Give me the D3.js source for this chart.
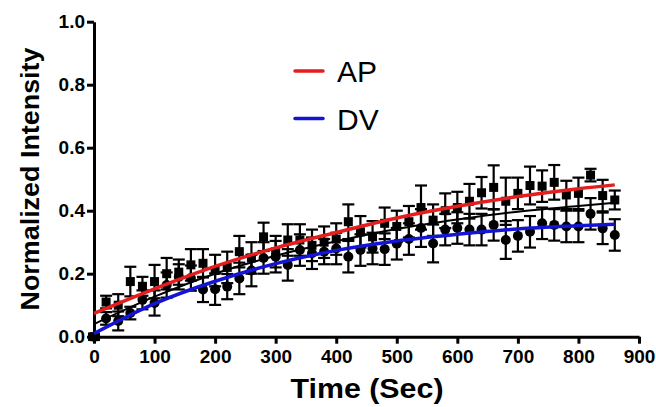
<!DOCTYPE html>
<html>
<head>
<meta charset="utf-8">
<script src="https://cdn.jsdelivr.net/npm/d3@7"></script>
<style>
  body { margin: 0; background: #fff; }
  svg { display: block; }
</style>
</head>
<body>
<div id="chart"></div>
<script>
'use strict';

// sampling times (sec)
var timeSec = [
  0, 20, 40, 60, 80, 100, 120, 140, 160, 180,
  200, 220, 240, 260, 280, 300, 320, 340, 360, 380,
  400, 420, 440, 460, 480, 500, 520, 540, 560, 580,
  600, 620, 640, 660, 680, 700, 720, 740, 760, 780,
  800, 820, 840, 860
];

// AP (squares)
var apMean = [
  0.0, 0.11, 0.10, 0.175, 0.16, 0.175, 0.20, 0.205, 0.228, 0.233,
  0.21, 0.22, 0.27, 0.25, 0.317, 0.27, 0.307, 0.307, 0.29, 0.30,
  0.31, 0.365, 0.333, 0.317, 0.36, 0.35, 0.365, 0.41, 0.37, 0.40,
  0.41, 0.43, 0.457, 0.474, 0.43, 0.455, 0.48, 0.478, 0.49, 0.45,
  0.455, 0.513, 0.448, 0.434
];
var apErr = [
  0.01, 0.02, 0.035, 0.047, 0.03, 0.053, 0.05, 0.04, 0.05, 0.045,
  0.05, 0.05, 0.05, 0.05, 0.045, 0.05, 0.05, 0.05, 0.05, 0.05,
  0.05, 0.055, 0.05, 0.05, 0.05, 0.05, 0.05, 0.07, 0.05, 0.055,
  0.05, 0.055, 0.05, 0.07, 0.075, 0.05, 0.06, 0.05, 0.055, 0.045,
  0.05, 0.02, 0.05, 0.03
];

// DV (circles)
var dvMean = [
  0.0, 0.058, 0.05, 0.075, 0.117, 0.107, 0.164, 0.19, 0.186, 0.15,
  0.151, 0.159, 0.185, 0.21, 0.25, 0.254, 0.228, 0.275, 0.265, 0.27,
  0.28, 0.254, 0.275, 0.28, 0.278, 0.295, 0.31, 0.345, 0.296, 0.34,
  0.345, 0.34, 0.34, 0.355, 0.307, 0.32, 0.333, 0.36, 0.355, 0.35,
  0.35, 0.39, 0.344, 0.323
];
var dvErr = [
  0.005, 0.02, 0.03, 0.02, 0.03, 0.04, 0.04, 0.04, 0.04, 0.04,
  0.05, 0.04, 0.05, 0.05, 0.05, 0.05, 0.05, 0.05, 0.05, 0.04,
  0.05, 0.05, 0.05, 0.05, 0.05, 0.05, 0.05, 0.06, 0.06, 0.05,
  0.05, 0.05, 0.05, 0.05, 0.06, 0.05, 0.05, 0.05, 0.05, 0.05,
  0.05, 0.05, 0.05, 0.05
];

// fitted curves
var fitTime = [0, 100, 200, 300, 400, 500, 600, 700, 800, 860];
var apFit = [0.074, 0.152, 0.223, 0.282, 0.331, 0.377, 0.414, 0.445, 0.47, 0.482];
var dvFit = [0.01, 0.105, 0.176, 0.232, 0.274, 0.304, 0.325, 0.342, 0.352, 0.357];
var allFit = [0.04, 0.127, 0.2, 0.257, 0.303, 0.342, 0.372, 0.397, 0.415, 0.425];

var xTicks = [0, 100, 200, 300, 400, 500, 600, 700, 800, 900];
var yTicks = [0, 0.2, 0.4, 0.6, 0.8, 1.0];

var legendItems = [
  { 'name': 'AP', 'color': '#e41e1e' },
  { 'name': 'DV', 'color': '#1414d4' }
];

var visW = 656, visH = 407;
var fontFamily = '"Liberation Sans", Arial, Helvetica, sans-serif';

var x = d3.scaleLinear().domain([0, 900]).range([94, 639]);
var y = d3.scaleLinear().domain([0, 1]).range([336.7, 21.7]);

var vis = d3.select('#chart')
  .append('svg')
  .attr('width', visW)
  .attr('height', visH);

/* Axes */

var styleAxis = function styleAxis(g) {
  g.select('.domain').attr('stroke', '#000').attr('stroke-width', 3);
  g.selectAll('.tick line').attr('stroke', '#000').attr('stroke-width', 3);
  g.selectAll('.tick text')
    .attr('fill', '#000')
    .style('font-family', fontFamily)
    .style('font-weight', 'bold')
    .style('font-size', '19px');
};

vis.append('g')
  .attr('transform', 'translate(0,' + y(0) + ')')
  .call(d3.axisBottom(x).tickValues(xTicks).tickSize(7).tickSizeOuter(0).tickPadding(6))
  .call(styleAxis);

vis.append('g')
  .attr('transform', 'translate(' + x(0) + ',0)')
  .call(d3.axisLeft(y).tickValues(yTicks).tickFormat(d3.format('.1f')).tickSize(7).tickSizeOuter(0).tickPadding(2))
  .call(styleAxis);

vis.append('text')
  .attr('x', 367)
  .attr('y', 398)
  .attr('text-anchor', 'middle')
  .attr('textLength', 153)
  .attr('lengthAdjust', 'spacingAndGlyphs')
  .style('font-family', fontFamily)
  .style('font-weight', 'bold')
  .style('font-size', '27px')
  .text('Time (Sec)');

vis.append('text')
  .attr('transform', 'translate(39,179) rotate(-90)')
  .attr('text-anchor', 'middle')
  .attr('textLength', 263)
  .attr('lengthAdjust', 'spacingAndGlyphs')
  .style('font-family', fontFamily)
  .style('font-weight', 'bold')
  .style('font-size', '25px')
  .text('Normalized Intensity');

/* Points with error bars */

var drawSeries = function drawSeries(means, errs, shape) {
  var g = vis.append('g');
  for (var i = 0; i < timeSec.length; i++) {
    var cx = x(timeSec[i]);
    var top = y(means[i] + errs[i]), bot = y(means[i] - errs[i]);
    g.append('line').attr('x1', cx).attr('x2', cx).attr('y1', top).attr('y2', bot)
      .attr('stroke', '#000').attr('stroke-width', 2.2);
    g.append('line').attr('x1', cx - 6).attr('x2', cx + 6).attr('y1', top).attr('y2', top)
      .attr('stroke', '#000').attr('stroke-width', 2.2);
    g.append('line').attr('x1', cx - 6).attr('x2', cx + 6).attr('y1', bot).attr('y2', bot)
      .attr('stroke', '#000').attr('stroke-width', 2.2);
    if (shape === 'square') {
      g.append('rect').attr('x', cx - 4.5).attr('y', y(means[i]) - 4.5)
        .attr('width', 9).attr('height', 9).attr('fill', '#000');
    } else {
      g.append('circle').attr('cx', cx).attr('cy', y(means[i])).attr('r', 5).attr('fill', '#000');
    }
  }
};

drawSeries(dvMean, dvErr, 'circle');
drawSeries(apMean, apErr, 'square');

/* Fit curves */

var fitLine = function fitLine(values) {
  return d3.line()
    .x(function(d, i) { return x(fitTime[i]); })
    .y(function(d) { return y(d); })
    .curve(d3.curveMonotoneX)(values);
};

vis.append('path').attr('d', fitLine(allFit))
  .attr('fill', 'none').attr('stroke', '#000').attr('stroke-width', 2);
vis.append('path').attr('d', fitLine(apFit))
  .attr('fill', 'none').attr('stroke', legendItems[0].color).attr('stroke-width', 3.5);
vis.append('path').attr('d', fitLine(dvFit))
  .attr('fill', 'none').attr('stroke', legendItems[1].color).attr('stroke-width', 3.5);

/* Legend */

legendItems.forEach(function(item, i) {
  var ly = 71 + i * 47.5;
  vis.append('line')
    .attr('x1', 295).attr('x2', 323).attr('y1', ly).attr('y2', ly)
    .attr('stroke', item.color).attr('stroke-width', 3.5)
    .attr('stroke-linecap', 'round');
  vis.append('text')
    .attr('x', 337)
    .attr('y', ly + 11)
    .style('font-family', fontFamily)
    .style('font-size', '30px')
    .text(item.name);
});
</script>
</body>
</html>
